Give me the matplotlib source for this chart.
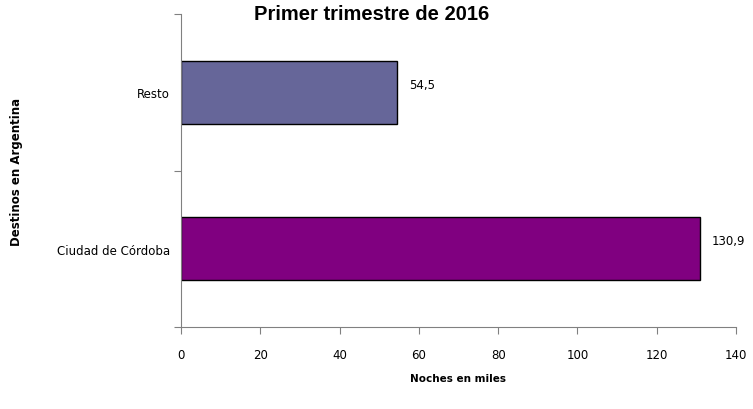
import numpy as np
import matplotlib.pyplot as plt

# data
destinos = ['Ciudad de Córdoba', 'Resto']
noches = [130.9, 54.5]
etiquetas = ['130,9', '54,5']
colores = ['#800080', '#666699']

fig = plt.figure(figsize=(7.53, 4.10), dpi=100)
ax = fig.add_axes([181 / 753, 1 - 328 / 410, (736 - 181) / 753, (328 - 15) / 410])

y = np.arange(len(destinos))
ax.barh(y, noches, height=0.4, color=colores, edgecolor='black', linewidth=1)

for yi, val, lab in zip(y, noches, etiquetas):
    ax.text(val + 3, yi + 0.05, lab, va='center', ha='left', fontsize=8.5,
            family='DejaVu Sans')

ax.set_xlim(0, 140)
ax.set_ylim(-0.5, 1.5)
ax.set_xticks(np.arange(0, 141, 20))
ax.set_yticks([-0.5, 0.5, 1.5])
ax.set_yticklabels([])
ax.set_yticks(y, minor=True)
ax.set_yticklabels(destinos, minor=True)
ax.tick_params(axis='y', which='minor', length=0, pad=8, labelsize=8.5)
ax.tick_params(axis='y', which='major', length=5, color='#808080')
ax.tick_params(axis='x', length=5, color='#808080', labelsize=8.5, pad=10)

for s in ['top', 'right']:
    ax.spines[s].set_visible(False)
for s in ['left', 'bottom']:
    ax.spines[s].set_color('#808080')

ax.set_xlabel('Noches en miles', fontsize=7.5, fontweight='bold', labelpad=9)
ax.set_ylabel('Destinos en Argentina', fontsize=8.5, fontweight='bold', labelpad=0)
ax.yaxis.set_label_coords(-0.285, 0.5)

fig.text(372 / 753, 1 - 15 / 410, 'Primer trimestre de 2016', ha='center', va='center',
         fontsize=14.5, fontweight='bold', family='Liberation Sans')

fig.savefig('out.png', dpi=100)
